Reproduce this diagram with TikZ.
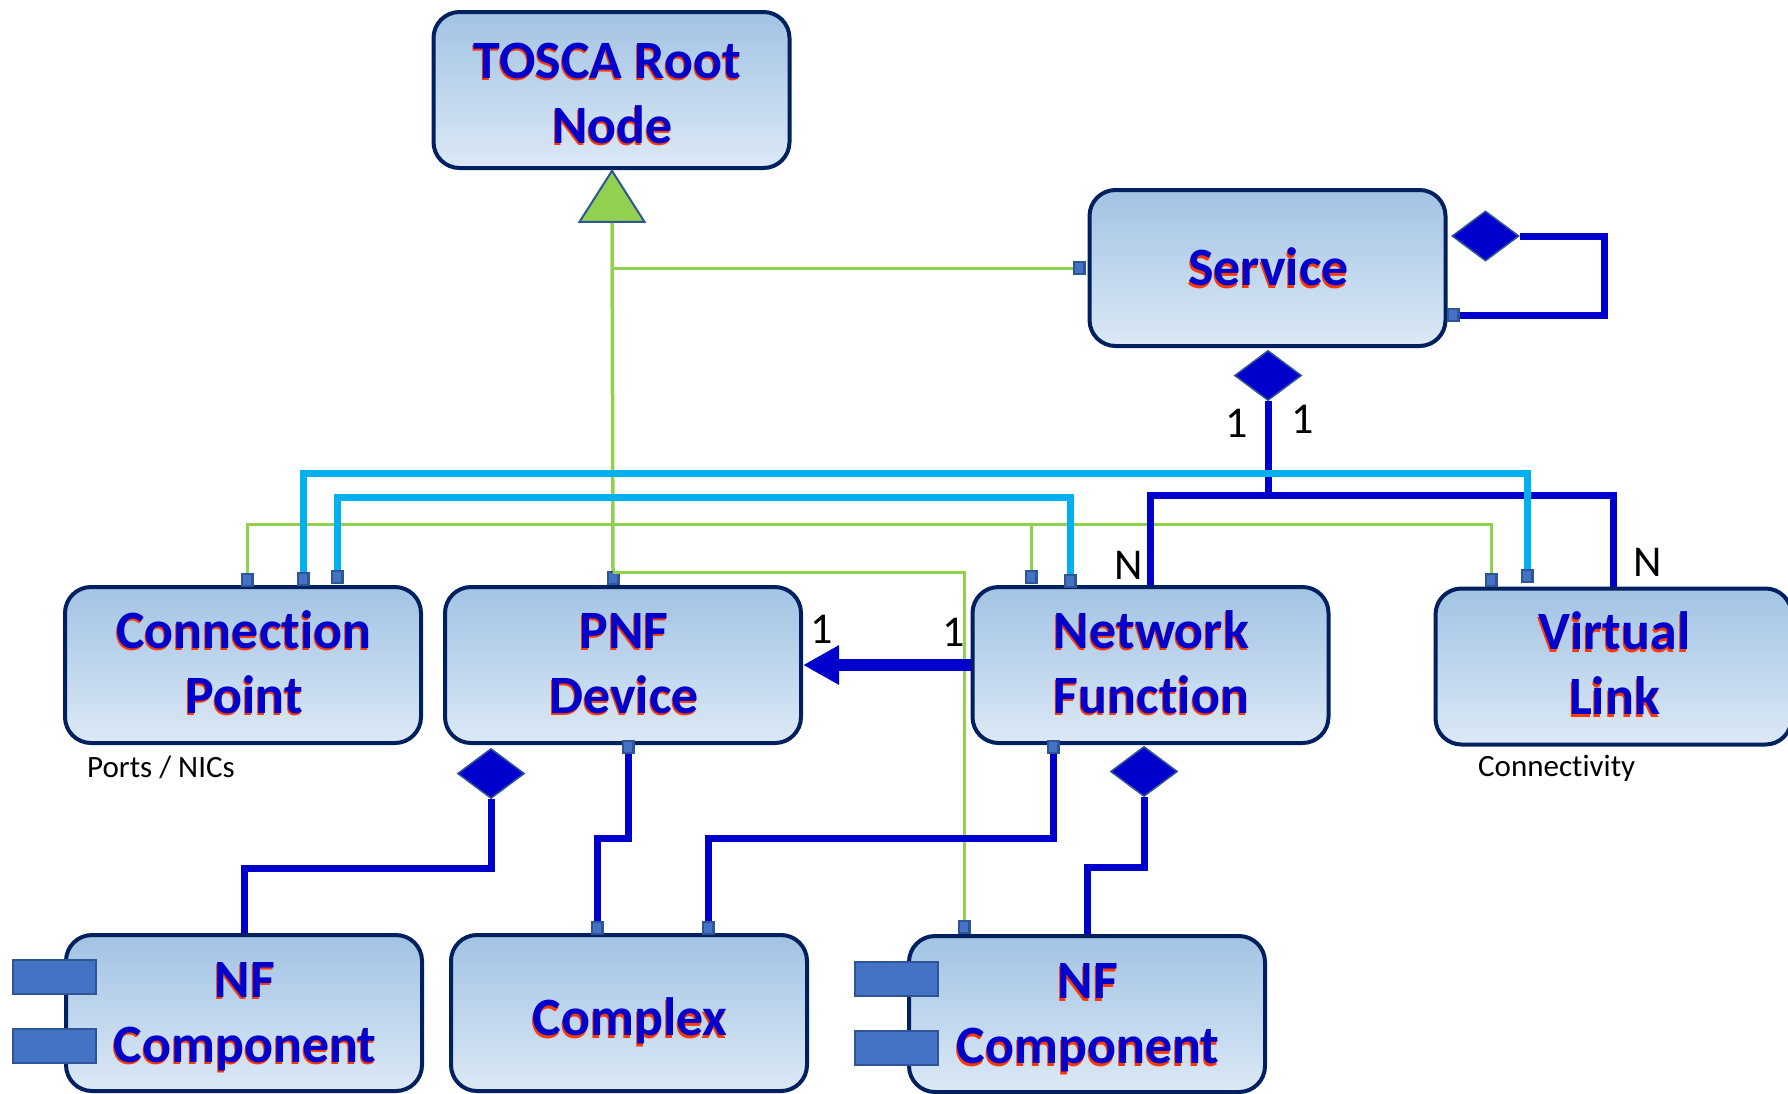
\documentclass[tikz,border=0pt]{standalone}
\usepackage{fontspec}
\setmainfont[Ligatures=NoCommon]{Carlito}
\usetikzlibrary{arrows.meta,shapes.geometric}
\definecolor{boxline}{HTML}{002060}
\definecolor{boxtop}{HTML}{A2C3E4}
\definecolor{boxbottom}{HTML}{DCE9F6}
\definecolor{titleblue}{HTML}{0000CC}
\definecolor{glowred}{HTML}{FF3800}
\definecolor{portfill}{HTML}{4472C4}
\definecolor{portline}{HTML}{2F5597}
\definecolor{linegreen}{HTML}{92D050}
\definecolor{linecyan}{HTML}{00B0F0}
\newcommand{\glowtext}[2][16pt]{\raisebox{-#1}[0pt][0pt]{\kern2pt\rlap{\kern-1pt\raisebox{-2.5pt}{\textcolor{glowred}{#2}}}#2}}
\tikzset{
  umlbox/.style={draw=boxline, line width=4pt, rounded corners=26pt, top color=boxtop, bottom color=boxbottom,
    minimum width=356pt, minimum height=156pt, inner sep=0pt, align=center, text=titleblue,
    font=\fontsize{54}{65}\selectfont\bfseries},
  port/.style={draw=portline, fill=portfill, line width=2.5pt, minimum width=10.5pt, minimum height=12pt, inner sep=0pt},
  pin/.style={draw=portline, fill=portfill, line width=2pt, minimum width=83pt, minimum height=34pt, inner sep=0pt},
  owner/.style={diamond, draw=portline, fill=titleblue, line width=1.5pt, minimum width=67pt, minimum height=50pt, inner sep=0pt},
  gline/.style={draw=linegreen, line width=3pt},
  bline/.style={draw=titleblue, line width=7pt},
  cline/.style={draw=linecyan, line width=7pt},
  count/.style={font=\fontsize{44}{44}\selectfont, inner sep=0pt},
  note/.style={font=\fontsize{31}{31}\selectfont, inner sep=0pt}
}
\begin{document}
\begin{tikzpicture}[x=1pt,y=-1pt]
    \useasboundingbox (0,0) rectangle (1788,1093);

    \node[umlbox] (root) at (611.5,90) {\hspace*{-10pt}\glowtext[20.5pt]{TOSCA Root}\\\glowtext[20.5pt]{Node}};
    \node[umlbox] (service) at (1267.5,268) {\glowtext[17.5pt]{Service}};
    \node[umlbox] (cpoint) at (243,665) {\glowtext[15.5pt]{Connection}\\\glowtext[15.5pt]{Point}};
    \node[umlbox] (pnf) at (623,665) {\glowtext[15.5pt]{PNF}\\\glowtext[15.5pt]{Device}};
    \node[umlbox] (netfunc) at (1150.5,665) {\glowtext[15.5pt]{Network}\\\glowtext[15.5pt]{Function}};
    \node[umlbox] (vlink) at (1613.5,666.5) {\glowtext[15.5pt]{Virtual}\\\glowtext[15.5pt]{Link}};
    \node[umlbox] (nfcleft) at (244,1013) {\glowtext[16.5pt]{NF}\\\glowtext[16.5pt]{Component}};
    \node[umlbox] (complex) at (629,1013) {\glowtext[22.5pt]{Complex}};
    \node[umlbox] (nfcright) at (1087,1014) {\glowtext[17pt]{NF}\\\glowtext[17pt]{Component}};

    \node[pin] (pinla) at (54,976.5) {};
    \node[pin] (pinlb) at (54,1045.5) {};
    \node[pin] (pinra) at (896,979) {};
    \node[pin] (pinrb) at (896,1047.5) {};

    \node[isosceles triangle, isosceles triangle stretches, shape border rotate=90, draw=portline, fill=linegreen,
      line width=2pt, minimum width=65pt, minimum height=51pt, inner sep=0pt] (inherit) at (612,204) {};

    \node[port] (svcleft) at (1079,268) {};
    \node[port] (svcright) at (1453,315) {};
    \node[port] (cpgreen) at (247,580) {};
    \node[port] (cpcyana) at (303,579) {};
    \node[port] (cpcyanb) at (337,577) {};
    \node[port] (pnftop) at (613,578) {};
    \node[port] (pnfbot) at (628,747) {};
    \node[port] (nfgreen) at (1031,577) {};
    \node[port] (nfcyan) at (1070,581) {};
    \node[port] (nfbot) at (1053,747) {};
    \node[port] (vlgreen) at (1491,580) {};
    \node[port] (vlcyan) at (1527,576) {};
    \node[port] (cxleft) at (597,928) {};
    \node[port] (cxright) at (708,928) {};
    \node[port] (nfcgreen) at (964,927) {};

    \node[owner] (svcself) at (1485.5,236) {};
    \node[owner] (svcdown) at (1268,375.5) {};
    \node[owner] (pnfown) at (491,773.5) {};
    \node[owner] (nfown) at (1144,771.5) {};

    \coordinate (svcsplit) at (612,268);
    \coordinate (greenbus) at (1031,524);
    \coordinate (pnfsplit) at (613,572);
    \coordinate (hub) at (1268,495);
    \coordinate (cyanhigh) at (900,473);
    \coordinate (cyanlow) at (700,497);

    % inheritance
    \draw[gline] (svcsplit) -- (svcleft.west);
    \draw[gline] (cpgreen.north) |- (greenbus) -| (vlgreen.north);
    \draw[gline] (greenbus) -- (nfgreen.north);
    \draw[gline] (pnfsplit) -| (nfcgreen.north);
    \draw[gline, line width=3.5pt] (inherit.south) -- (pnftop.north);

    % ownership
    \draw[bline] (svcself.east) -- ++(85,0) |- (svcright.east);
    \draw[bline] (svcdown.south) -- (hub);
    \draw[bline] (hub) -| (netfunc.north);
    \draw[bline] (hub) -| (vlink.north);
    \draw[bline] (pnfown.south) -- ++(0,69) -| (nfcleft.north);
    \draw[bline] (pnfbot.south) -- ++(0,84) -| (cxleft.north);
    \draw[bline] (nfbot.south) -- ++(0,84) -| (cxright.north);
    \draw[bline] (nfown.south) -- ++(0,70) -| (nfcright.north);
    \draw[titleblue, line width=12pt, -{Triangle[length=36pt,width=37pt]}] (netfunc.west) -- (pnf.east);

    % links
    \draw[cline] (cpcyana.north) |- (cyanhigh) -| (vlcyan.north);
    \draw[cline] (cpcyanb.north) |- (cyanlow) -| (nfcyan.north);

    \node[count] (onea) at (1237,423) {1};
    \node[count] (oneb) at (1303,419) {1};
    \node[count] (nleft) at (1129,565) {N};
    \node[count] (nright) at (1648,562) {N};
    \node[count] (onec) at (822,629) {1};
    \node[count] (oned) at (954,632) {1};
    \node[note, anchor=west] (nics) at (87,767) {Ports / NICs};
    \node[note, anchor=west] (conn) at (1478,768) {Connectivity};
\end{tikzpicture}
\end{document}
